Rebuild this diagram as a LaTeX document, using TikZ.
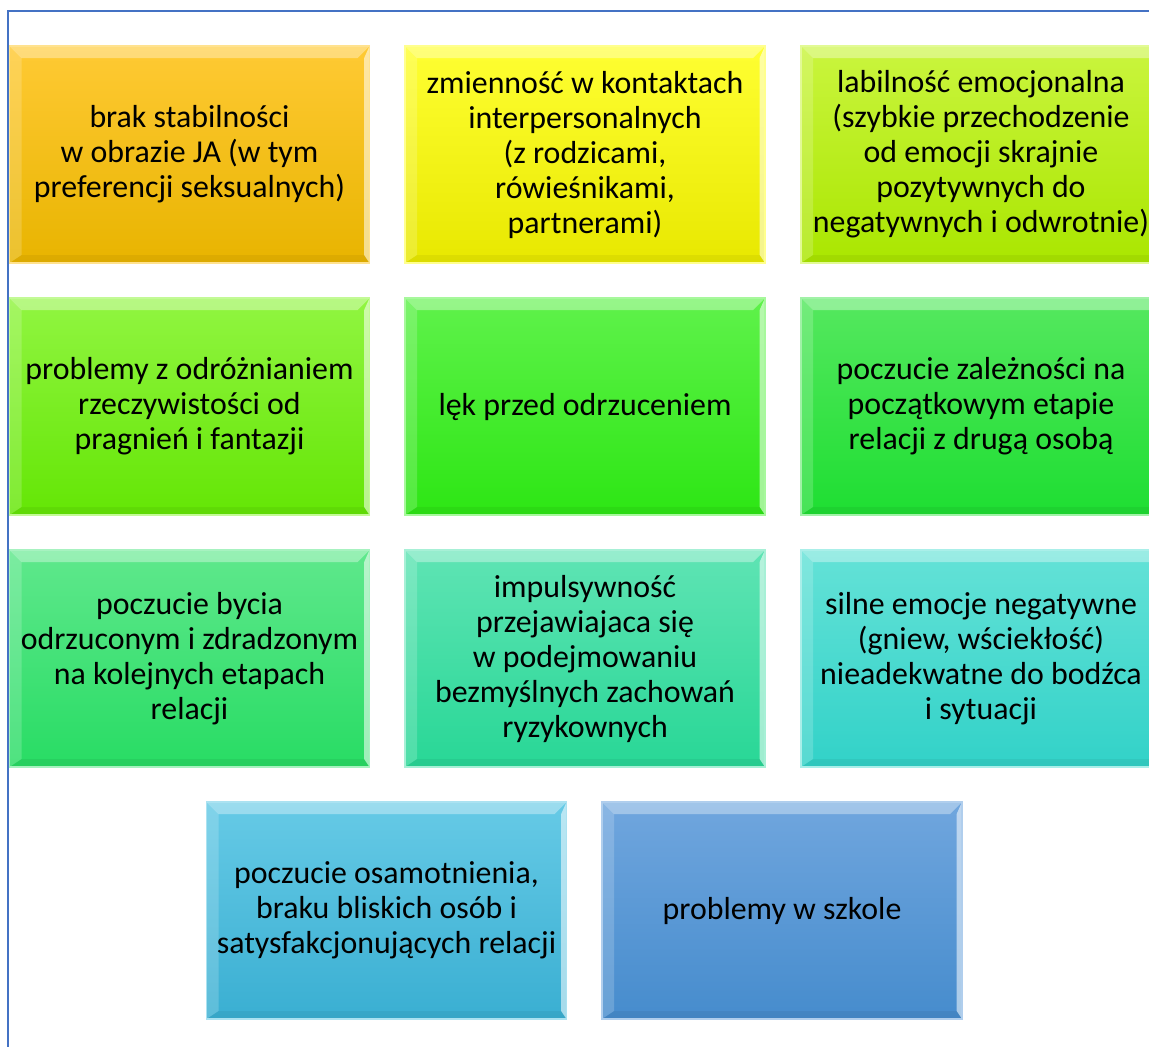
\documentclass[tikz,border=0pt]{standalone}
\usepackage{fontspec}
\setmainfont{Carlito}
\usepackage{tikz}
\usetikzlibrary{positioning}

% tile colours, top and bottom of each gradient
\definecolor{frameblue}{RGB}{68,114,196}
\definecolor{jaT}{RGB}{255,202,52}    \definecolor{jaB}{RGB}{232,180,0}
\definecolor{kontT}{RGB}{255,255,50}  \definecolor{kontB}{RGB}{232,232,0}
\definecolor{labT}{RGB}{202,245,62}   \definecolor{labB}{RGB}{170,230,0}
\definecolor{fantT}{RGB}{145,245,65}  \definecolor{fantB}{RGB}{100,230,5}
\definecolor{lekT}{RGB}{95,242,75}    \definecolor{lekB}{RGB}{45,230,20}
\definecolor{zalT}{RGB}{85,232,95}    \definecolor{zalB}{RGB}{30,222,50}
\definecolor{odrT}{RGB}{95,232,140}   \definecolor{odrB}{RGB}{40,220,100}
\definecolor{impT}{RGB}{95,228,180}   \definecolor{impB}{RGB}{40,215,150}
\definecolor{gnT}{RGB}{100,226,215}   \definecolor{gnB}{RGB}{50,210,200}
\definecolor{samT}{RGB}{102,202,230}  \definecolor{samB}{RGB}{58,175,210}
\definecolor{szkT}{RGB}{112,166,222}  \definecolor{szkB}{RGB}{70,140,205}

\newcommand{\tilefont}{\fontsize{23.9}{26.25}\selectfont}

\begin{document}
\begin{tikzpicture}[
  x=0.75pt, y=-0.75pt,
  tile/.style 2 args={draw=#1!55!white, line width=0.8pt, top color=#1, bottom color=#2,
    minimum width=270pt, minimum height=162.75pt, inner sep=0pt, align=center,
    font=\tilefont, path picture={
      % bevelled edges
      \fill[white, opacity=.35] (path picture bounding box.north west) -- (path picture bounding box.north east)
        -- ([shift={(-9pt,-9pt)}]path picture bounding box.north east) -- ([shift={(9pt,-9pt)}]path picture bounding box.north west) -- cycle;
      \fill[white, opacity=.18] (path picture bounding box.north west) -- (path picture bounding box.south west)
        -- ([shift={(9pt,6pt)}]path picture bounding box.south west) -- ([shift={(9pt,-9pt)}]path picture bounding box.north west) -- cycle;
      \fill[white, opacity=.55] (path picture bounding box.north east) -- (path picture bounding box.south east)
        -- ([shift={(-4pt,6pt)}]path picture bounding box.south east) -- ([shift={(-4pt,-9pt)}]path picture bounding box.north east) -- cycle;
      \fill[black, opacity=.05] (path picture bounding box.south west) -- (path picture bounding box.south east)
        -- ([shift={(-4pt,6pt)}]path picture bounding box.south east) -- ([shift={(9pt,6pt)}]path picture bounding box.south west) -- cycle;
    }},
  frame/.style={draw=frameblue, line width=1.5pt}
]
\useasboundingbox (0,0) rectangle (1149,1047);
\clip (0,0) rectangle (1149,1047);
\draw[frame] (1149,11) -- (8,11) -- (8,1047);

% row 1
\node[tile={jaT}{jaB}] (stabilnosc) at (189.5,154.5) {brak stabilności\\w obrazie JA (w tym\\preferencji seksualnych)};
\node[tile={kontT}{kontB}] (kontakty) at (585,154.5) {zmienność w kontaktach\\interpersonalnych\\(z rodzicami,\\rówieśnikami,\\partnerami)};
\node[tile={labT}{labB}] (labilnosc) at (981,154.5) {labilność emocjonalna\\(szybkie przechodzenie\\od emocji skrajnie\\pozytywnych do\\negatywnych i odwrotnie)};

% row 2
\node[tile={fantT}{fantB}] (fantazje) at (189.5,406.5) {problemy z odróżnianiem\\rzeczywistości od\\pragnień i fantazji};
\node[tile={lekT}{lekB}] (lek) at (585,406.5) {lęk przed odrzuceniem};
\node[tile={zalT}{zalB}] (zaleznosc) at (981,406.5) {poczucie zależności na\\początkowym etapie\\relacji z drugą osobą};

% row 3
\node[tile={odrT}{odrB}] (odrzucenie) at (189.5,658.5) {poczucie bycia\\odrzuconym i zdradzonym\\na kolejnych etapach\\relacji};
\node[tile={impT}{impB}] (impuls) at (585,658.5) {impulsywność\\przejawiajaca się\\w podejmowaniu\\bezmyślnych zachowań\\ryzykownych};
\node[tile={gnT}{gnB}] (gniew) at (981,658.5) {silne emocje negatywne\\(gniew, wściekłość)\\nieadekwatne do bodźca\\i sytuacji};

% row 4
\node[tile={samT}{samB}] (samotnosc) at (386.5,910.5) {poczucie osamotnienia,\\braku bliskich osób i\\satysfakcjonujących relacji};
\node[tile={szkT}{szkB}] (szkola) at (782,910.5) {problemy w szkole};
\end{tikzpicture}
\end{document}
